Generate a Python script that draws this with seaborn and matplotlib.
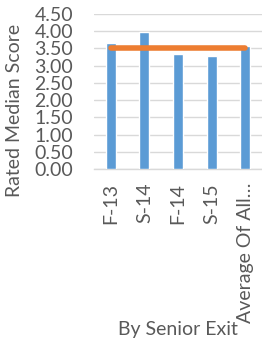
import matplotlib
matplotlib.use("Agg")
import matplotlib.pyplot as plt
import seaborn as sns
import pandas as pd

categories = ["F-13", "S-14", "F-14", "S-15", "Average Of All…"]
median_scores = [3.65, 3.98, 3.33, 3.27, 3.56]
target_values = [3.5, 3.5, 3.5, 3.5, 3.5]
y_ticks = [0.0, 0.5, 1.0, 1.5, 2.0, 2.5, 3.0, 3.5, 4.0, 4.5]

sns.set_theme(style="white")
plt.rcParams['font.family'] = ['Lato', 'DejaVu Sans']
text_color = "#595959"

df = pd.DataFrame({"cat": categories, "score": median_scores, "target": target_values})

fig = plt.figure(figsize=(2.62, 3.41), dpi=100)
ax = fig.add_axes([94/262, 1-169/341, 1-94/262, (169-14)/341])

sns.barplot(data=df, x="cat", y="score", color="#5b9bd5", saturation=1, width=0.3, ax=ax, zorder=3)
sns.lineplot(data=df, x="cat", y="target", color="#ed7d31", linewidth=4, ax=ax, zorder=4, sort=False)

ax.set_ylim(0, 4.5)
ax.set_xlim(-0.5, 4.5)
ax.set_yticks(y_ticks)
ax.set_yticklabels([f"{v:.2f}" for v in y_ticks])
ax.yaxis.grid(True, color="#d9d9d9", linewidth=1, zorder=0)
ax.xaxis.grid(False)
for s in ["top", "right", "left"]:
    ax.spines[s].set_visible(False)
ax.spines["bottom"].set_color("#d9d9d9")
ax.spines["bottom"].set_linewidth(1)
ax.tick_params(axis="y", length=0, pad=15, labelsize=14, labelcolor=text_color)
ax.tick_params(axis="x", length=0, pad=10, labelsize=14, labelcolor=text_color, labelrotation=90)
ax.set_xlabel("")
ax.set_ylabel("")

fig.text(15/262, 1-110/341, "Rated Median Score", rotation=90, ha="center", va="center",
         fontsize=14, color=text_color)
fig.text(178/262, 1-329/341, "By Senior Exit", ha="center", va="center",
         fontsize=14, color=text_color)

fig.savefig("out.png", dpi=100)
